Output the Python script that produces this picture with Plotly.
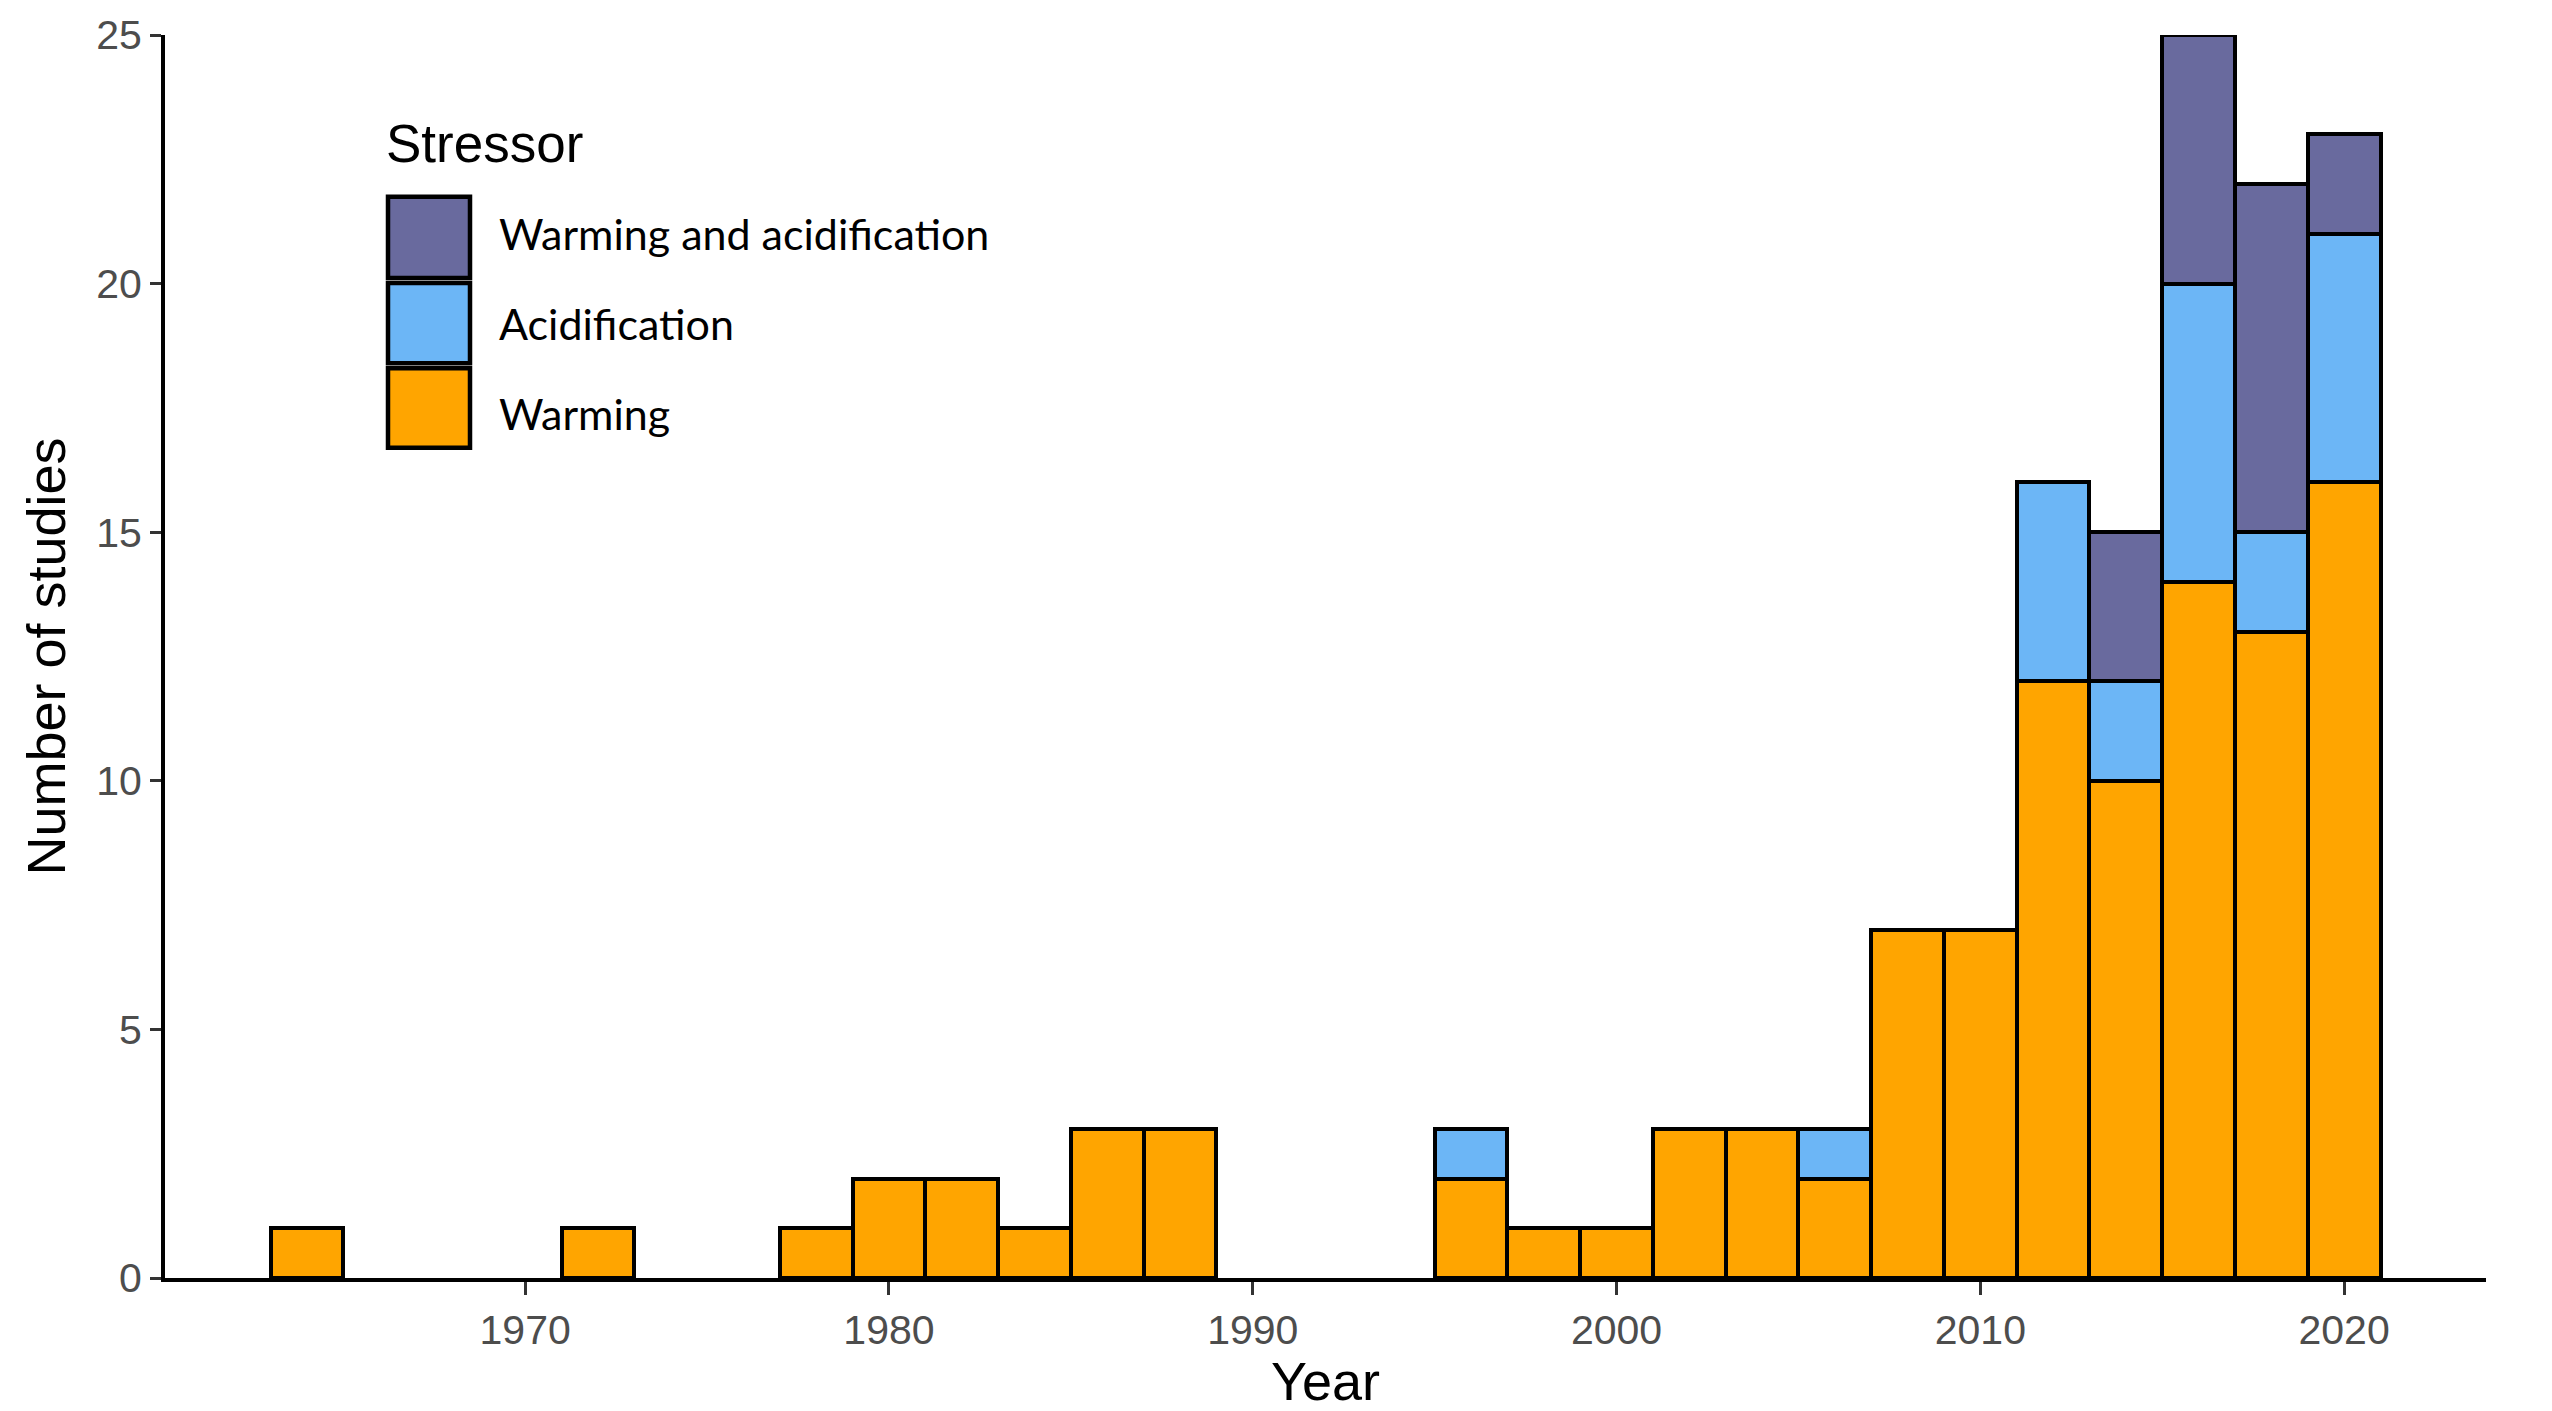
import plotly.graph_objects as go

# Publication year bins (2-year bins, centred on even years)
years = [1964, 1972, 1978, 1980, 1982, 1984, 1986, 1988, 1996, 1998, 2000,
         2002, 2004, 2006, 2008, 2010, 2012, 2014, 2016, 2018, 2020]
warming = [1, 1, 1, 2, 2, 1, 3, 3, 2, 1, 1, 3, 3, 2, 7, 7, 12, 10, 14, 13, 16]
acidification = [0, 0, 0, 0, 0, 0, 0, 0, 1, 0, 0, 0, 0, 1, 0, 0, 4, 2, 6, 2, 5]
warming_and_acid = [0, 0, 0, 0, 0, 0, 0, 0, 0, 0, 0, 0, 0, 0, 0, 0, 0, 3, 5, 7, 2]

series = [
    ("Warming", warming, "#FFA500"),
    ("Acidification", acidification, "#6CB6F6"),
    ("Warming and acidification", warming_and_acid, "#696A9E"),
]
x_ticks = [1970, 1980, 1990, 2000, 2010, 2020]
y_ticks = [0, 5, 10, 15, 20, 25]

W, H = 2552, 1411
ML, MR, MT, MB = 165, 66, 30, 128
PW, PH = W - ML - MR, H - MT - MB


def px(xp):
    return (xp - ML) / PW


def py(yp):
    return (H - MB - yp) / PH


fig = go.Figure()
for name, vals, color in series:
    fig.add_trace(go.Bar(
        x=years,
        y=[v if v > 0 else None for v in vals],
        width=2,
        name=name,
        marker=dict(color=color, line=dict(color="black", width=4.5)),
        showlegend=False,
    ))

# Legend drawn as large keys (top entry first): label, colour, key top/bottom, label centre
shapes = []
annotations = []
key_rows = [
    ("Warming and acidification", "#696A9E", 193, 275, 230),
    ("Acidification", "#6CB6F6", 280, 361, 321),
    ("Warming", "#FFA500", 366, 446, 412),
]
for label, color, y0, y1, yl in key_rows:
    shapes.append(dict(
        type="rect", xref="paper", yref="paper",
        x0=px(388), x1=px(470), y0=py(y1), y1=py(y0),
        fillcolor=color, line=dict(color="black", width=4.5),
    ))
    annotations.append(dict(
        text=label, xref="paper", yref="paper",
        x=px(497), y=py(yl), xanchor="left", yanchor="middle",
        showarrow=False, font=dict(family="Lato, Open Sans, sans-serif", size=43, color="black"),
    ))
annotations.append(dict(
    text="Stressor", xref="paper", yref="paper",
    x=px(384), y=py(139), xanchor="left", yanchor="middle",
    showarrow=False, font=dict(family="Liberation Sans, Arial, sans-serif", size=53, color="black"),
))

fig.update_layout(
    width=W, height=H,
    margin=dict(l=ML, r=MR, t=MT, b=MB, pad=0),
    barmode="stack",
    bargap=0,
    plot_bgcolor="white",
    paper_bgcolor="white",
    font=dict(family="Liberation Sans, Arial, sans-serif", color="black"),
    shapes=shapes,
    annotations=annotations,
    xaxis=dict(
        range=[1960.1, 2023.9],
        tickvals=x_ticks,
        ticktext=[str(t) for t in x_ticks],
        ticks="outside", ticklen=13, tickwidth=3, tickcolor="#333333",
        tickfont=dict(size=41, color="#4D4D4D"),
        showline=True, linecolor="black", linewidth=4,
        showgrid=False, zeroline=False,
        title=dict(text="Year", font=dict(size=54, color="black"), standoff=8),
    ),
    yaxis=dict(
        range=[0, 25],
        tickvals=y_ticks,
        ticks="outside", ticklen=11, tickwidth=3, tickcolor="#333333",
        tickfont=dict(size=41, color="#4D4D4D"),
        showline=True, linecolor="black", linewidth=4,
        showgrid=False, zeroline=False,
        title=dict(text="Number of studies", font=dict(size=54, color="black"), standoff=14),
    ),
)

fig.write_html("out.html")
